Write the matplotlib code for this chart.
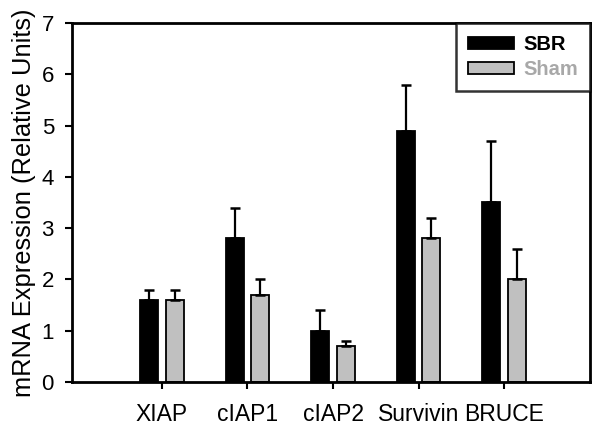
import matplotlib
matplotlib.use("Agg")
import matplotlib.pyplot as plt
import numpy as np

categories = ["XIAP", "cIAP1", "cIAP2", "Survivin", "BRUCE"]
sbr = [1.6, 2.8, 1.0, 4.9, 3.5]
sbr_err = [0.2, 0.6, 0.4, 0.9, 1.2]
sham = [1.6, 1.7, 0.7, 2.8, 2.0]
sham_err = [0.2, 0.3, 0.1, 0.4, 0.6]
yticks = [0, 1, 2, 3, 4, 5, 6, 7]

plt.rcParams['font.family'] = ['Liberation Sans', 'DejaVu Sans']

fig = plt.figure(figsize=(6, 4.3), dpi=100)
ax = fig.add_axes([0.12, 0.1116, 0.863, 0.835])

x = np.arange(1, len(categories) + 1)
w = 0.21
off = 0.15
err_kw = dict(ecolor='black', elinewidth=1.6, capsize=3.5, capthick=1.8)
ax.bar(x - off, sbr, w, color='black', edgecolor='black', linewidth=1.3,
       yerr=[np.zeros(len(sbr)), sbr_err], error_kw=err_kw, label='SBR', zorder=2)
ax.bar(x + off, sham, w, color='#c0c0c0', edgecolor='black', linewidth=1.3,
       yerr=[np.zeros(len(sham)), sham_err], error_kw=err_kw, label='Sham', zorder=2)

ax.set_xlim(-0.05, 6.0)
ax.set_ylim(0, 7)
ax.set_yticks(yticks)
ax.set_yticklabels([str(t) for t in yticks], fontsize=16)
ax.set_xticks(x)
ax.set_xticklabels(categories, fontsize=16.5)
ax.tick_params(axis='both', direction='out', length=5, width=1.5)
ax.tick_params(axis='y', pad=8)
ax.tick_params(axis='x', pad=10)
for s in ax.spines.values():
    s.set_linewidth(2)
ax.set_ylabel("mRNA Expression (Relative Units)", fontsize=18.4, labelpad=4)

leg = ax.legend(loc='upper right', fontsize=14.5, frameon=True, fancybox=False,
                borderaxespad=0, handlelength=2.3, handleheight=0.5,
                borderpad=0.6, labelspacing=0.3, handletextpad=0.45)
leg.get_frame().set_edgecolor('black')
leg.get_frame().set_linewidth(1.8)
for t, c in zip(leg.get_texts(), ['black', '#a8a8a8']):
    t.set_color(c)
    t.set_fontweight('bold')

fig.savefig("out.png", dpi=100)
